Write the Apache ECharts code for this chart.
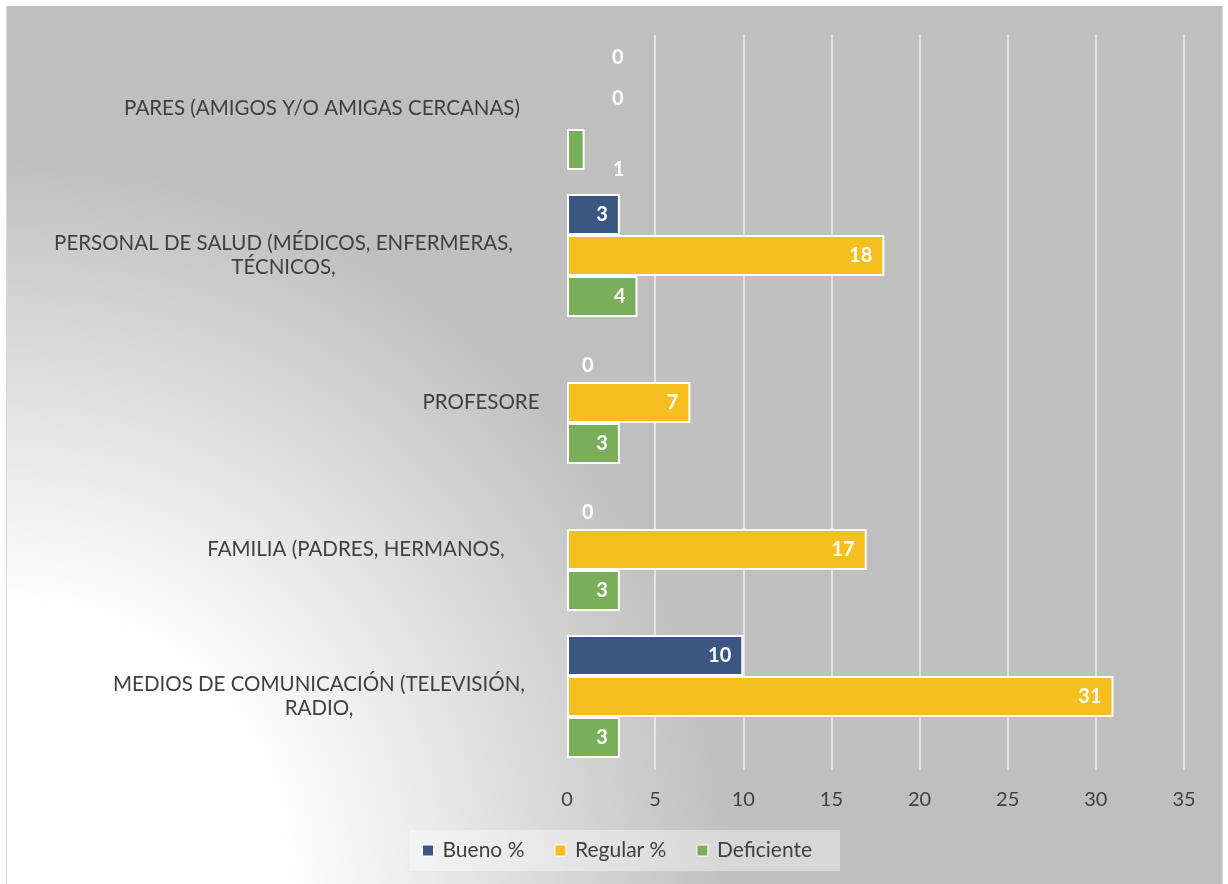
<!DOCTYPE html>
<html lang="es">
<head>
<meta charset="UTF-8">
<title>Fuentes de información</title>
<style>
  html, body {margin:0; padding:0; background:#fff}
  #chart {position:absolute; left:6px; top:6px; width:1215px; height:878px; border-left:1px solid #d9d9d9; border-right:1px solid #d9d9d9}
</style>
<script src="https://cdn.jsdelivr.net/npm/echarts@6/dist/echarts.min.js"></script>
</head>
<body>
<div id="chart"></div>
<script>
// categories, bottom to top
const categories = [
  'MEDIOS DE COMUNICACIÓN (TELEVISIÓN,\nRADIO,',
  'FAMILIA (PADRES, HERMANOS,',
  'PROFESORE',
  'PERSONAL DE SALUD (MÉDICOS, ENFERMERAS,\nTÉCNICOS,',
  'PARES (AMIGOS Y/O AMIGAS CERCANAS)'
]
const seriesNames = ['Bueno %', 'Regular %', 'Deficiente']
const bueno = [10, 0, 0, 3, 0]
const regular = [31, 17, 7, 18, 0]
const deficiente = [3, 3, 3, 4, 1]
const xTicks = [0, 5, 10, 15, 20, 25, 30, 35]

const colors = ['#3b5683', '#f5bf1f', '#7aae5a']
const labelFont = 'Lato'
const labelSize = 20.5
// right padding of each category label (how far it stops before the axis)
const labelPad = [15, 35, 0, 27, 20]

// measure lines so multi-line labels are centred within their own block
const ctx = document.createElement('canvas').getContext('2d')
ctx.font = labelSize + 'px ' + labelFont
const rich = {}
categories.forEach((c, i) => {
  const w = Math.max(...c.split('\n').map(s => ctx.measureText(s).width))
  rich['c' + i] = {
    width: Math.ceil(w), align: 'center', padding: [0, labelPad[i], 0, 0],
    fontFamily: labelFont, fontSize: labelSize, color: '#404040', lineHeight: 24
  }
})

// label tweaks for the odd zero / tiny values
function labelFor(cIdx, v) {
  if (v === 0) {
    if (cIdx === 4) return {position: 'right', distance: 45, offset: [0, -10]}
    return {position: 'right', distance: 15, offset: [0, 4]}
  }
  if (v === 1) return {position: 'right', distance: 28, offset: [0, 20]}
  return null
}

function build(values) {
  return values.map((v, i) => {
    const l = labelFor(i, v)
    if (!l) return v
    const item = {value: v, label: l}
    if (v === 0) item.itemStyle = {borderWidth: 0}
    return item
  })
}

const chart = echarts.init(document.getElementById('chart'))
chart.setOption({
  backgroundColor: {
    type: 'radial', x: 0, y: 1, r: 0.83,
    colorStops: [
      {offset: 0, color: '#ffffff'},
      {offset: 0.38, color: '#ffffff'},
      {offset: 1, color: '#bfbfbf'}
    ]
  },
  animation: false,
  textStyle: {fontFamily: labelFont},
  grid: {left: 560, right: 38, top: 29, bottom: 114, containLabel: false},
  legend: {
    data: seriesNames,
    bottom: 13, left: 403,
    padding: [10, 28, 10, 12],
    backgroundColor: 'rgba(255,255,255,0.38)',
    icon: 'rect', itemWidth: 11, itemHeight: 11, itemGap: 30,
    itemStyle: {borderColor: '#fff', borderWidth: 1},
    textStyle: {fontSize: 21, color: '#404040', fontFamily: labelFont, padding: [0, 0, 0, 4]}
  },
  xAxis: {
    type: 'value', min: 0, max: 35, interval: 5,
    axisLine: {show: false},
    axisTick: {show: false},
    splitLine: {show: true, showMinLine: false, lineStyle: {color: '#e4e4e4', width: 2}},
    axisLabel: {
      margin: 20, fontSize: 20, color: '#404040', fontFamily: labelFont,
      formatter: v => xTicks.includes(v) ? String(v) : ''
    }
  },
  yAxis: {
    type: 'category', data: categories,
    axisLine: {show: false}, axisTick: {show: false},
    axisLabel: {
      margin: 27, align: 'right',
      formatter: (v, i) => v.split('\n').map(s => '{c' + i + '|' + s + '}').join('\n'),
      rich: rich
    }
  },
  series: [bueno, regular, deficiente].map((vals, s) => ({
    name: seriesNames[s],
    type: 'bar',
    data: build(vals),
    barWidth: 41, barGap: '0%', barCategoryGap: '16%',
    itemStyle: {color: colors[s], borderColor: '#fff', borderWidth: 2},
    label: {
      show: true, position: 'insideRight', distance: 12,
      color: '#fff', fontWeight: 'bold', fontSize: 20, fontFamily: labelFont
    }
  }))
})
</script>
</body>
</html>
